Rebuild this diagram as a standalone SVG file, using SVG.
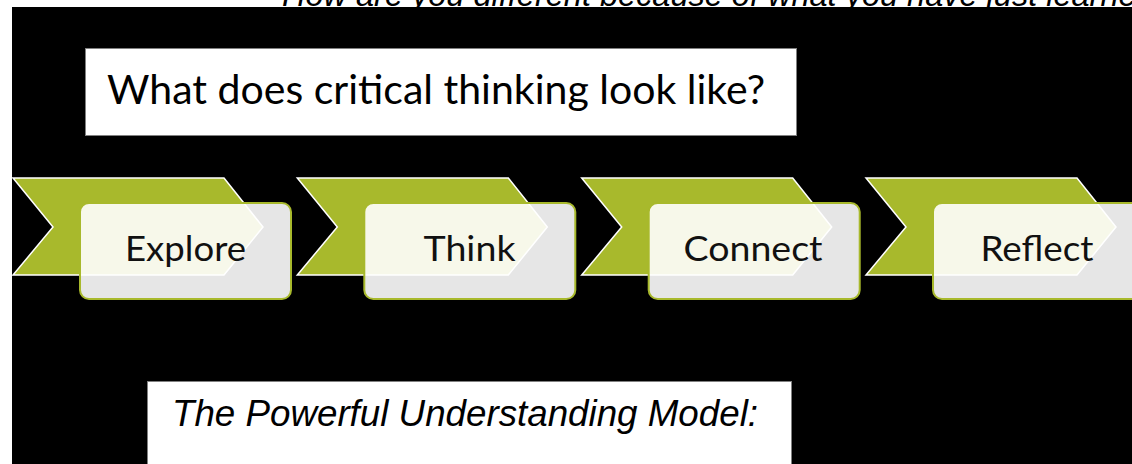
<svg xmlns="http://www.w3.org/2000/svg" width="1132" height="464" viewBox="0 0 1132 464">
<defs>
<style>
.chev{fill:#A8B92C;stroke:#FFFFFF;stroke-width:1.5;stroke-linejoin:miter}
.card{fill:#FFFFFF;fill-opacity:0.9;stroke:#A8B92C;stroke-width:2}
.lbl{font-family:Lato,"Open Sans","Noto Sans",sans-serif;font-size:35px;fill:#111111;text-anchor:middle}
.box{fill:#FFFFFF;stroke:#808080;stroke-width:1}
</style>
<polygon id="chevShape" points="0,0 211,0 250,49 211,97 0,97 40,49"/>
</defs>
<rect x="0" y="0" width="1132" height="464" fill="#FFFFFF"/>
<text x="282" y="5.5" font-family="'Liberation Sans',Arial,sans-serif" font-style="italic" font-size="32.5" fill="#000000">How are you different because of what you have just learned</text>
<rect x="12" y="7" width="1120" height="457" fill="#000000"/>

<g id="title">
<rect class="box" x="85.5" y="48.5" width="711" height="87"/>
<text x="107" y="104" font-family="Lato,'Open Sans','Noto Sans',sans-serif" font-size="40" fill="#000000" textLength="658" lengthAdjust="spacingAndGlyphs">What does critical thinking look like?</text>
</g>

<g id="step-explore">
<use href="#chevShape" class="chev" x="13" y="178"/>
<rect class="card" x="80" y="203" width="211" height="96" rx="9"/>
<text class="lbl" x="185.5" y="261" textLength="121" lengthAdjust="spacingAndGlyphs">Explore</text>
</g>

<g id="step-think">
<use href="#chevShape" class="chev" x="297.3" y="178"/>
<rect class="card" x="364.3" y="203" width="211" height="96" rx="9"/>
<text class="lbl" x="469.5" y="261" textLength="92" lengthAdjust="spacingAndGlyphs">Think</text>
</g>

<g id="step-connect">
<use href="#chevShape" class="chev" x="581.7" y="178"/>
<rect class="card" x="648.7" y="203" width="211" height="96" rx="9"/>
<text class="lbl" x="753" y="261" textLength="139" lengthAdjust="spacingAndGlyphs">Connect</text>
</g>

<g id="step-reflect">
<use href="#chevShape" class="chev" x="866" y="178"/>
<rect class="card" x="933" y="203" width="211" height="96" rx="9"/>
<text class="lbl" x="1037" y="261" textLength="113" lengthAdjust="spacingAndGlyphs">Reflect</text>
</g>

<g id="connectors"></g>

<g id="model">
<rect class="box" x="147.5" y="381.5" width="644" height="90"/>
<text x="172" y="426" font-family="'Liberation Sans',Arial,sans-serif" font-style="italic" font-size="36" fill="#000000" textLength="586" lengthAdjust="spacingAndGlyphs">The Powerful Understanding Model:</text>
</g>
</svg>
